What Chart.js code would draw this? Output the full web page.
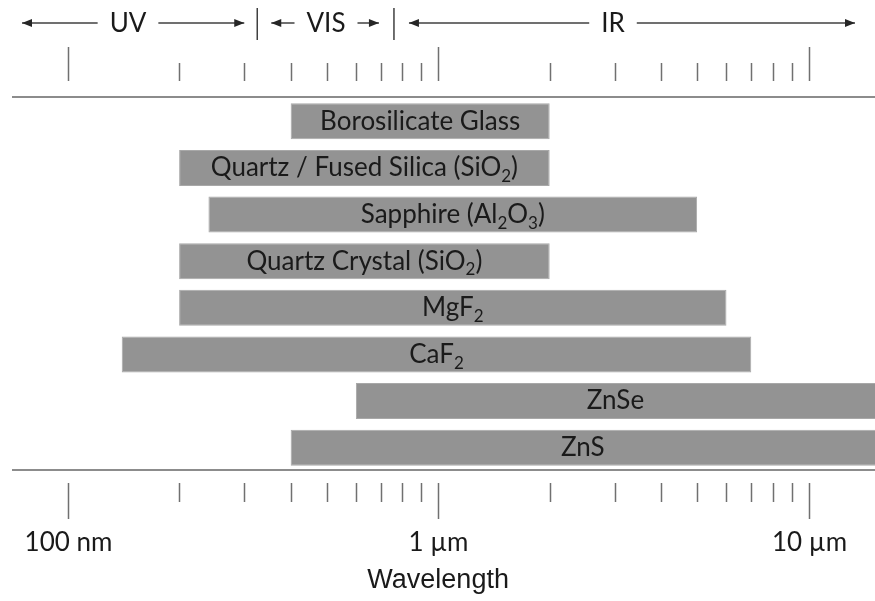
<!DOCTYPE html>
<html>
<head>
<meta charset="utf-8">
<script src="https://cdn.jsdelivr.net/npm/chart.js@4"></script>
<style>
  body{margin:0;background:#fff;}
  #graph{display:block;}
</style>
</head>
<body>
<canvas id="graph" width="875" height="601"></canvas>
<script>
// materials, transmission range in µm ("_2" = subscript 2)
var materials = ['Borosilicate Glass', 'Quartz / Fused Silica (SiO_2)', 'Sapphire (Al_2O_3)',
  'Quartz Crystal (SiO_2)', 'MgF_2', 'CaF_2', 'ZnSe', 'ZnS'];
var rangeStart = [0.4, 0.2, 0.24, 0.2, 0.2, 0.14, 0.6, 0.4];
var rangeEnd   = [2.0, 2.0, 5.0, 2.0, 6.0, 7.0, 20, 20];

// axis
var xMin = 0.0708, xMax = 15.1;
var minorTicks = [0.2,0.3,0.4,0.5,0.6,0.7,0.8,0.9,2,3,4,5,6,7,8,9];
var majorTicks = [0.1, 1, 10];
var majorLabels = ['100 nm', '1 µm', '10 µm'];

// spectral regions on top
var regionBounds = [0.325, 0.76];
var regionNames = ['UV', 'VIS', 'IR'];

var fontSize = 26;
var gray = '#8c8c8c';

function drawRich(ctx, text, cx, cy, size){
  var parts = text.split(/_(\d)/);
  var subFont = Math.round(size*0.65) + 'px Lato';
  var mainFont = size + 'px Lato';
  var w = 0;
  for(var i=0;i<parts.length;i++){
    ctx.font = (i%2) ? subFont : mainFont;
    w += ctx.measureText(parts[i]).width;
  }
  var x = cx - w/2;
  ctx.textAlign = 'left';
  ctx.textBaseline = 'middle';
  for(var j=0;j<parts.length;j++){
    ctx.font = (j%2) ? subFont : mainFont;
    ctx.fillText(parts[j], x, (j%2) ? cy + size*0.33 : cy);
    x += ctx.measureText(parts[j]).width;
  }
}

function arrow(ctx, x1, x2, y, head){
  // head at x2
  ctx.beginPath();
  ctx.moveTo(x1, y);
  ctx.lineTo(x2, y);
  ctx.stroke();
  var d = x2 > x1 ? 1 : -1;
  ctx.beginPath();
  ctx.moveTo(x2, y);
  ctx.lineTo(x2 - d*head, y - 4);
  ctx.lineTo(x2 - d*head, y + 4);
  ctx.closePath();
  ctx.fill();
}

const decor = {
  id: 'decor',
  afterDatasetsDraw(chart){
    var ctx = chart.ctx;
    var xs = chart.scales.x;
    var ys = chart.scales.y;
    var area = chart.chartArea;
    ctx.save();

    // bar labels centred on the visible part
    ctx.fillStyle = '#1a1a1a';
    for(var i=0;i<materials.length;i++){
      var a = xs.getPixelForValue(Math.max(rangeStart[i], xMin));
      var b = xs.getPixelForValue(Math.min(rangeEnd[i], xMax));
      drawRich(ctx, materials[i], (a+b)/2, ys.getPixelForValue(i), fontSize);
    }

    // frame lines
    ctx.strokeStyle = gray;
    ctx.lineWidth = 2;
    [area.top - 1, area.bottom - 1].forEach(function(y){
      ctx.beginPath();
      ctx.moveTo(area.left, y);
      ctx.lineTo(area.right, y);
      ctx.stroke();
    });

    // ticks top and bottom
    ctx.lineWidth = 1.5;
    ctx.strokeStyle = '#707070';
    minorTicks.forEach(function(v){
      var x = Math.round(xs.getPixelForValue(v)) + 0.5;
      ctx.beginPath();
      ctx.moveTo(x, area.top - 35); ctx.lineTo(x, area.top - 17);
      ctx.moveTo(x, area.bottom + 12); ctx.lineTo(x, area.bottom + 31);
      ctx.stroke();
    });
    majorTicks.forEach(function(v, k){
      var x = Math.round(xs.getPixelForValue(v)) + 0.5;
      ctx.beginPath();
      ctx.moveTo(x, area.top - 51); ctx.lineTo(x, area.top - 17);
      ctx.moveTo(x, area.bottom + 12); ctx.lineTo(x, area.bottom + 48);
      ctx.stroke();
      ctx.fillStyle = '#1a1a1a';
      ctx.font = fontSize + 'px Lato';
      ctx.textAlign = 'center';
      ctx.textBaseline = 'middle';
      ctx.fillText(majorLabels[k], x, area.bottom + 72);
    });

    // axis title
    ctx.font = '27px "Liberation Sans"';
    ctx.fillText('Wavelength', xs.getPixelForValue(1), area.bottom + 110);

    // UV / VIS / IR band
    var sep = regionBounds.map(function(v){ return xs.getPixelForValue(v); });
    var yArr = 23;
    ctx.strokeStyle = '#404040';
    ctx.fillStyle = '#262626';
    ctx.lineWidth = 1.5;
    sep.forEach(function(x){
      ctx.beginPath();
      ctx.moveTo(x, 8); ctx.lineTo(x, 40);
      ctx.stroke();
    });
    var lefts = [22, sep[0] + 14, sep[1] + 15];
    var rights = [sep[0] - 13, sep[1] - 15, area.right - 20];
    var textX = [128, 326, 613];
    ctx.font = fontSize + 'px Lato';
    for(var r=0;r<regionNames.length;r++){
      var tw = ctx.measureText(regionNames[r]).width;
      var t1 = textX[r] - tw/2 - 12, t2 = textX[r] + tw/2 + 12;
      arrow(ctx, t1, lefts[r], yArr, 10);
      arrow(ctx, t2, rights[r], yArr, 10);
      ctx.fillStyle = '#1a1a1a';
      ctx.textAlign = 'center';
      ctx.fillText(regionNames[r], textX[r], yArr + 1);
      ctx.fillStyle = '#262626';
    }
    ctx.restore();
  }
};

var bars = [];
for(var i=0;i<materials.length;i++){
  bars.push([rangeStart[i], rangeEnd[i]]);
}

var chart = new Chart(document.getElementById('graph'), {
  type: 'bar',
  data: {
    labels: materials,
    datasets: [{
      data: bars,
      backgroundColor: '#939393',
      borderColor: '#a8a8a8',
      borderWidth: 1,
      borderSkipped: false,
      categoryPercentage: 1,
      barPercentage: 0.77
    }]
  },
  options: {
    indexAxis: 'y',
    responsive: false,
    animation: false,
    layout: { padding: { left: 12, right: 0, top: 98, bottom: 130 } },
    plugins: { legend: { display: false }, tooltip: { enabled: false } },
    scales: {
      x: { type: 'logarithmic', min: xMin, max: xMax, display: false },
      y: { display: false }
    }
  },
  plugins: [decor]
});
</script>
</body>
</html>
